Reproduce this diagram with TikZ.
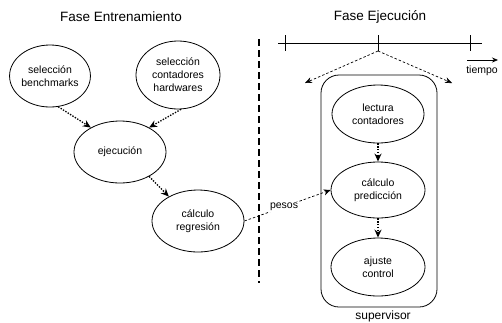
\documentclass[tikz,border=0pt]{standalone}
\usepackage{fontspec}
\setmainfont{Liberation Sans}
\usetikzlibrary{arrows.meta,positioning,shapes.geometric}

\begin{document}
\begin{tikzpicture}[
  x=1pt, y=-1pt,
  fase/.style={ellipse, draw, line width=0.8pt, inner sep=0pt, minimum width=92pt, minimum height=62pt, align=center, font=\fontsize{10.5}{13}\selectfont},
  flujo/.style={-{Stealth[length=8pt,width=7pt]}, dash pattern=on 1.4pt off 1.4pt, line width=1.3pt},
  envio/.style={-{Stealth[length=7pt,width=6pt]}, dash pattern=on 2.5pt off 2pt, line width=0.7pt},
  titulo/.style={font=\fontsize{13.5}{16}\selectfont},
  etiqueta/.style={font=\fontsize{10.5}{13}\selectfont, inner sep=1pt},
  >=Stealth
]
\useasboundingbox (0,0) rectangle (502,322);

% Fase de entrenamiento
\node[titulo] (tEnt) at (121,17) {Fase Entrenamiento};
\node[fase, minimum width=80pt] (bench) at (50,76) {selección\\benchmarks};
\node[fase, minimum width=84pt, minimum height=68pt] (hw) at (178,75) {selección\\contadores\\hardwares};
\node[fase] (ejec) at (120,152) {ejecución};
\node[fase] (regr) at (198,221) {cálculo\\regresión};

\draw[flujo] (bench.-75) -- (ejec.140);
\draw[flujo] (hw.-85) -- (ejec.40);
\draw[flujo] (ejec.-40) -- (regr.140);

% Separador
\coordinate (d1) at (259,39);
\coordinate (d2) at (259,283);
\draw[line width=2.5pt, dash pattern=on 7pt off 4pt] (d1) -- (d2);

% Fase de ejecución
\node[titulo] (tEje) at (380,17) {Fase Ejecución};

\coordinate (ta) at (278,43);
\coordinate (tb) at (482,43);
\draw[line width=1pt] (ta) -- (tb);
\foreach \i/\x in {1/285, 2/378, 3/470} {
  \coordinate (t\i) at (\x,43);
  \draw[line width=1pt] ([yshift=8pt]t\i) -- ([yshift=-8pt]t\i);
}
\coordinate (pl) at (305,83);
\coordinate (pr) at (452,83);
\draw[envio] ([yshift=-8pt]t2) -- (pl);
\draw[envio] ([yshift=-8pt]t2) -- (pr);

\coordinate (ti1) at (467,60);
\coordinate (ti2) at (498,60);
\draw[-{Stealth[length=6pt,width=5pt]}, line width=0.8pt] (ti1) -- (ti2);
\node[etiqueta] (tiempo) at (482,71) {tiempo};

% Supervisor
\node[draw, line width=0.8pt, rounded corners=18pt, minimum width=116pt, minimum height=232pt] (sup) at (379,191) {};
\node[font=\fontsize{12}{14}\selectfont] (supl) at (383,316) {supervisor};

\node[fase, minimum height=58pt] (lect) at (378,114) {lectura\\contadores};
\node[fase, minimum width=94pt, minimum height=56pt] (pred) at (378,190) {cálculo\\predicción};
\node[fase, minimum width=94pt, minimum height=58pt] (ajus) at (378,267) {ajuste\\control};

\draw[flujo] (lect) -- (pred);
\draw[flujo] (pred) -- (ajus);

\draw[envio] (regr.east) -- node[etiqueta, pos=0.46, fill=white] (pesos) {pesos} (pred.west);
\end{tikzpicture}
\end{document}
